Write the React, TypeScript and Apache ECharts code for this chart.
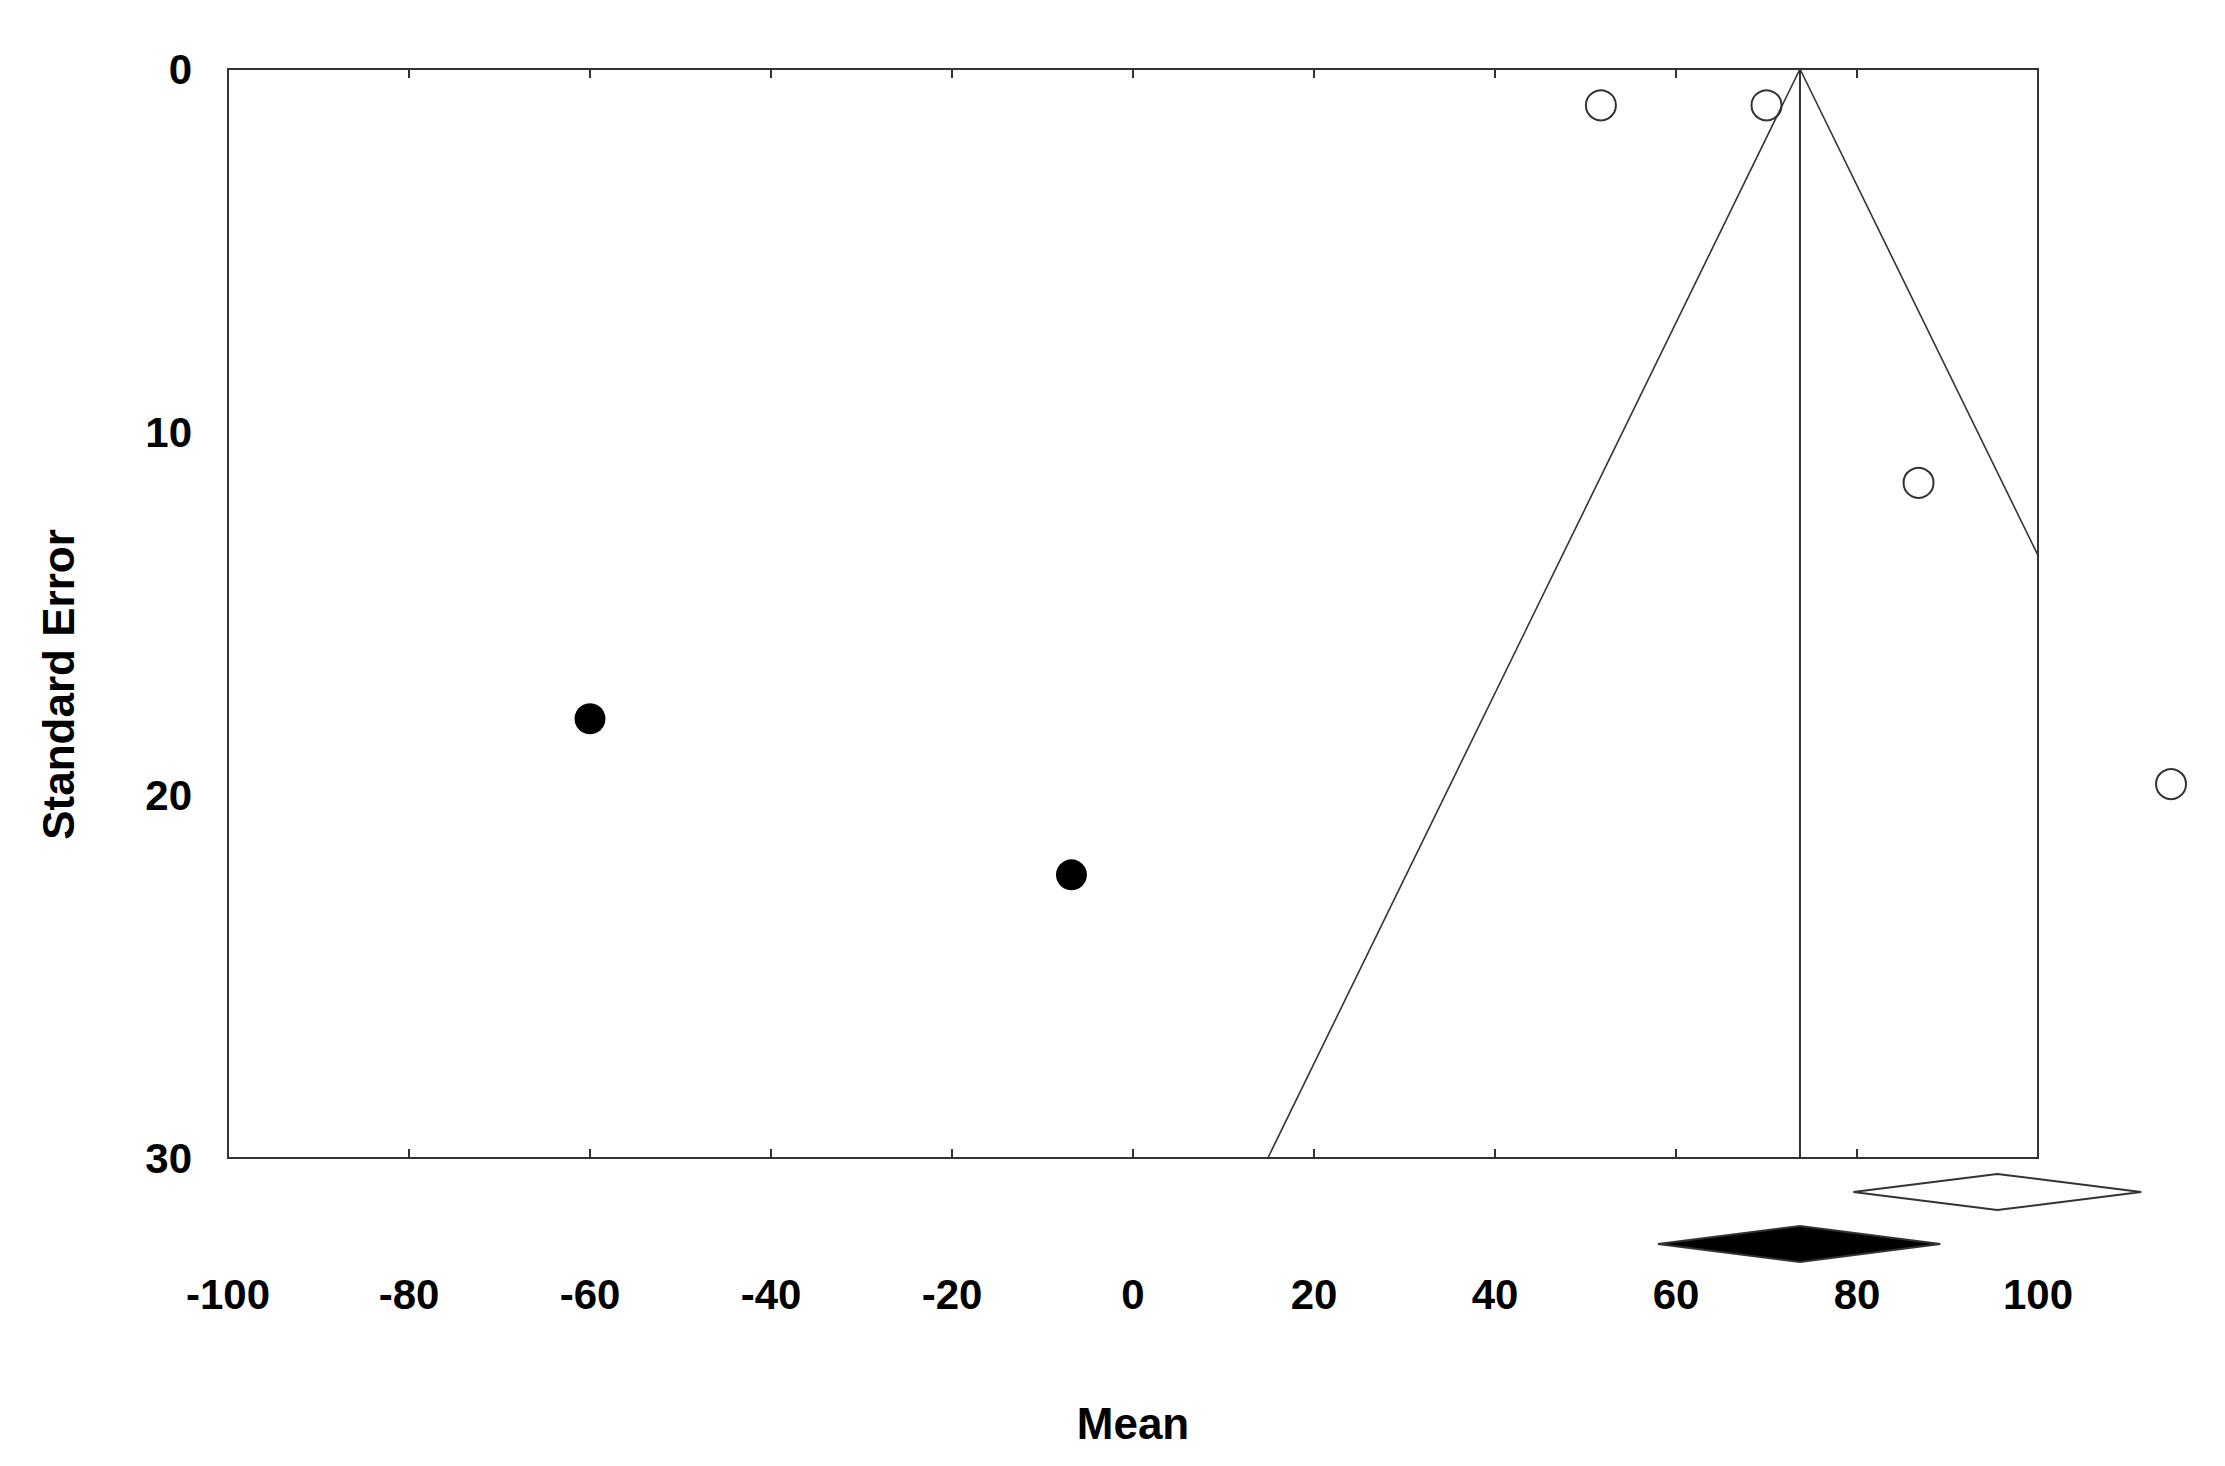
import { useEffect, useRef } from 'react';
import * as echarts from 'echarts';

// Studies (mean, standard error)
const observedStudies: [number, number][] = [
    [51.7, 1.0],
    [70.0, 1.0],
    [86.8, 11.4],
    [114.7, 19.7],
];
const imputedStudies: [number, number][] = [
    [-60.0, 17.9],
    [-6.8, 22.2],
];

// Funnel around the pooled mean
const pooledLine: [number, number][] = [
    [73.7, 0],
    [73.7, 30],
];
const funnelLeft: [number, number][] = [
    [73.7, 0],
    [14.9, 30],
];
const funnelRight: [number, number][] = [
    [73.7, 0],
    [100, 13.4],
];

// Summary diamonds: [lower, estimate, upper]
const adjustedDiamond = [79.6, 95.5, 111.4];
const observedDiamond = [58.0, 73.7, 89.2];

// Tick marks on the mean axis
const meanTicks = [-80, -60, -40, -20, 0, 20, 40, 60, 80];

const FONT = 'Liberation Sans';
const INK = '#333';

// Diamond drawn under the mean axis, offset in pixels from the bottom of the plot
const diamondItem = (offset: number, half: number, fill: string) => (params: any, api: any) => {
    const lo = api.coord([api.value(0), 30]);
    const mid = api.coord([api.value(1), 30]);
    const hi = api.coord([api.value(2), 30]);
    const cy = mid[1] + offset;
    return {
        type: 'polygon',
        shape: {
            points: [
                [lo[0], cy],
                [mid[0], cy - half],
                [hi[0], cy],
                [mid[0], cy + half],
            ],
        },
        style: { fill, stroke: INK, lineWidth: 2 },
    };
};

export default function App() {
    const chartRef = useRef<HTMLDivElement>(null);

    useEffect(() => {
        if (!chartRef.current) return;
        const chart = echarts.init(chartRef.current, null, { renderer: 'svg' });

        const tickStyle = { color: INK, width: 2 };

        chart.setOption({
            animation: false,
            backgroundColor: '#fff',
            grid: {
                left: 220,
                right: 179,
                top: 61,
                bottom: 300,
                show: true,
                borderColor: INK,
                borderWidth: 2,
            },
            xAxis: [
                {
                    type: 'value',
                    min: -100,
                    max: 100,
                    interval: 20,
                    position: 'bottom',
                    name: 'Mean',
                    nameLocation: 'middle',
                    nameGap: 243,
                    nameTextStyle: { fontFamily: FONT, fontWeight: 'bold', fontSize: 44, color: '#000' },
                    axisLine: { show: false },
                    axisTick: { show: true, inside: false, length: 9, lineStyle: tickStyle, customValues: meanTicks },
                    axisLabel: { margin: 115, fontFamily: FONT, fontWeight: 'bold', fontSize: 42, color: '#000' },
                    splitLine: { show: false },
                },
                {
                    type: 'value',
                    min: -100,
                    max: 100,
                    interval: 20,
                    position: 'bottom',
                    axisLine: { show: false },
                    axisTick: { show: true, inside: true, length: 9, lineStyle: tickStyle, customValues: meanTicks },
                    axisLabel: { show: false },
                    splitLine: { show: false },
                },
            ],
            yAxis: {
                type: 'value',
                inverse: true,
                min: 0,
                max: 30,
                interval: 10,
                name: 'Standard Error',
                nameLocation: 'middle',
                nameGap: 148,
                nameTextStyle: {
                    fontFamily: FONT,
                    fontWeight: 'bold',
                    fontSize: 44,
                    color: '#000',
                    padding: [0, 142, 0, 0],
                },
                axisLine: { show: false },
                axisTick: { show: false },
                axisLabel: { margin: 36, fontFamily: FONT, fontWeight: 'bold', fontSize: 42, color: '#000' },
                splitLine: { show: false },
            },
            series: [
                {
                    type: 'line',
                    data: funnelLeft,
                    symbol: 'none',
                    lineStyle: { color: INK, width: 1.6 },
                },
                {
                    type: 'line',
                    data: funnelRight,
                    symbol: 'none',
                    lineStyle: { color: INK, width: 1.6 },
                },
                {
                    type: 'line',
                    data: pooledLine,
                    symbol: 'none',
                    lineStyle: { color: INK, width: 2 },
                },
                {
                    type: 'scatter',
                    data: observedStudies,
                    symbol: 'circle',
                    symbolSize: 30,
                    clip: false,
                    itemStyle: { color: 'rgba(0,0,0,0)', borderColor: INK, borderWidth: 2, opacity: 1 },
                },
                {
                    type: 'scatter',
                    data: imputedStudies,
                    symbol: 'circle',
                    symbolSize: 31,
                    clip: false,
                    itemStyle: { color: '#000', opacity: 1 },
                },
                {
                    type: 'custom',
                    data: [adjustedDiamond],
                    encode: { x: [0, 1, 2] },
                    clip: false,
                    renderItem: diamondItem(34, 18, '#fff'),
                },
                {
                    type: 'custom',
                    data: [observedDiamond],
                    encode: { x: [0, 1, 2] },
                    clip: false,
                    renderItem: diamondItem(86, 18, '#000'),
                },
            ],
        });

        return () => chart.dispose();
    }, []);

    return <div ref={chartRef} style={{ width: 2209, height: 1450 }} />;
}
